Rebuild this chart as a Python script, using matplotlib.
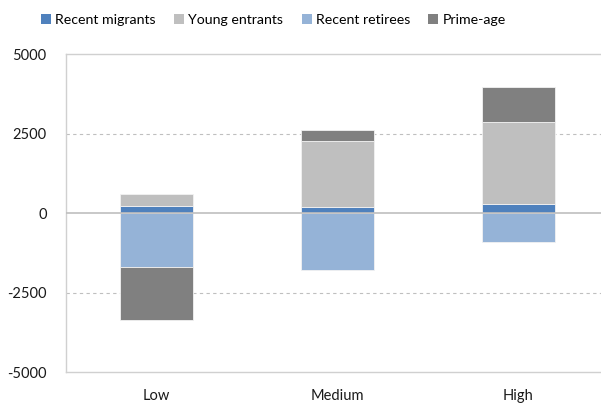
import numpy as np
import matplotlib.pyplot as plt
from matplotlib.patches import Patch

# values
categories = ['Low', 'Medium', 'High']
recent_migrants = [230, 215, 290]
young_entrants = [390, 2070, 2570]
recent_retirees = [-1700, -1790, -885]
prime_age = [-1640, 350, 1100]

series_names = ['Recent migrants', 'Young entrants', 'Recent retirees', 'Prime-age']
series_values = [recent_migrants, young_entrants, recent_retirees, prime_age]
colours = ['#4F81BD', '#BFBFBF', '#95B3D7', '#808080']

yticks = [5000, 2500, 0, -2500, -5000]

plt.rcParams['font.family'] = ['Lato', 'DejaVu Sans']

fig = plt.figure(figsize=(6.01, 4.03), dpi=100)
ax = fig.add_axes([0.110, 0.076, 0.903, 0.789])

x = np.arange(len(categories))
pos_base = np.zeros(len(categories))
neg_base = np.zeros(len(categories))

# stack positives upwards and negatives downwards, like Excel does
for name, vals, col in zip(series_names, series_values, colours):
    vals = np.array(vals, dtype=float)
    bottoms = np.where(vals >= 0, pos_base, neg_base)
    ax.bar(x, vals, width=0.4, bottom=bottoms, color=col,
           edgecolor='#F2F2F2', linewidth=0.6, zorder=3)
    pos_base = pos_base + np.where(vals >= 0, vals, 0)
    neg_base = neg_base + np.where(vals < 0, vals, 0)

ax.set_xlim(-0.5, 2.5)
ax.set_ylim(-5000, 5000)
ax.set_yticks(yticks)
ax.set_yticklabels([str(v) for v in yticks])
ax.set_xticks(x)
ax.set_xticklabels(categories)
ax.tick_params(length=0, labelsize=10.5, colors='#1a1a1a')
ax.tick_params(axis='x', pad=12)
ax.tick_params(axis='y', pad=14)

for v in [2500, -2500]:
    ax.axhline(v, color='#BFBFBF', linestyle=(0, (3, 3)), linewidth=0.8, zorder=1)
ax.axhline(0, color='#BFBFBF', linewidth=1.2, zorder=4)

for side in ['top', 'bottom', 'left']:
    ax.spines[side].set_color('#D0D0D0')
    ax.spines[side].set_linewidth(1.0)
ax.spines['right'].set_visible(False)

handles = [Patch(facecolor=c, edgecolor='none') for c in colours]
fig.legend(handles, series_names, loc='center', bbox_to_anchor=(0.455, 0.950),
           ncol=4, frameon=False, fontsize=10.2, handlelength=0.7,
           handleheight=0.7, handletextpad=0.3, columnspacing=1.3)

fig.savefig('out.png', dpi=100)
